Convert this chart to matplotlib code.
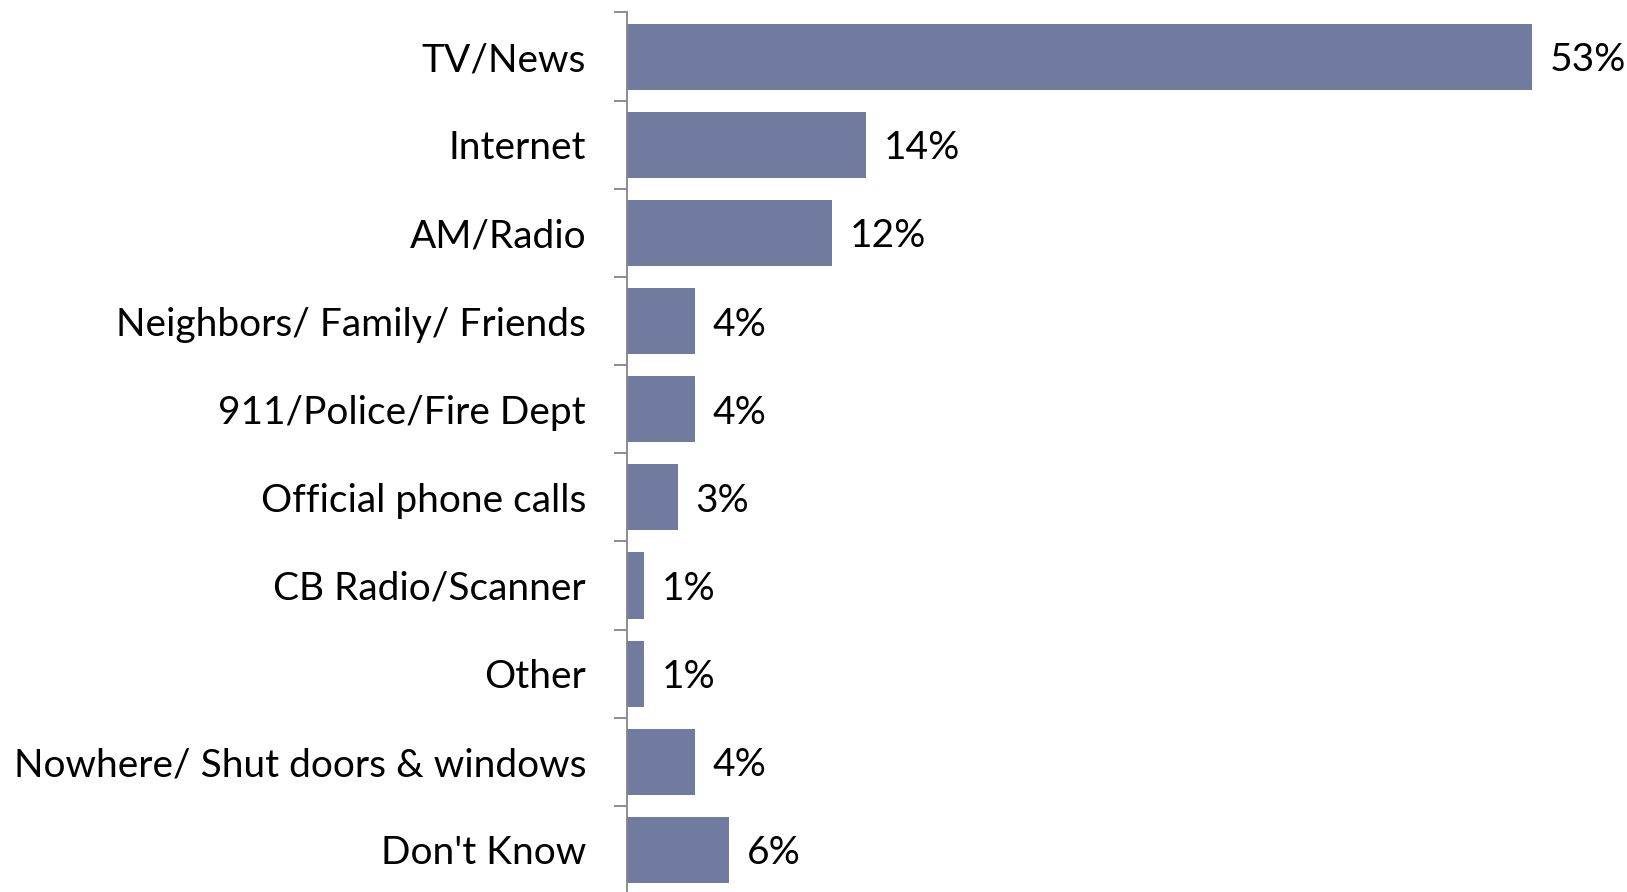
import numpy as np
from matplotlib import pyplot as plt

categories = ['TV/News', 'Internet', 'AM/Radio', 'Neighbors/ Family/ Friends',
              '911/Police/Fire Dept', 'Official phone calls', 'CB Radio/Scanner',
              'Other', 'Nowhere/ Shut doors & windows', "Don't Know"]
percents = [53, 14, 12, 4, 4, 3, 1, 1, 4, 6]

plt.rcParams['font.family'] = ['Lato', 'DejaVu Sans']

fig = plt.figure(figsize=(16.27, 8.92), dpi=100)
ax = fig.add_axes([627 / 1627, -2 / 892, 1 - 627 / 1627, 881.5 / 892])

y = np.arange(len(categories))
ax.barh(y, percents, height=0.75, color='#717ba0')

for yi, p in zip(y, percents):
    ax.annotate(f'{p}%', (p, yi), xytext=(12.5, 0), textcoords='offset points',
                va='center_baseline', ha='left', fontsize=28)

ax.set_ylim(len(categories) - 0.5, -0.5)
ax.set_xlim(0, 58.55)

ax.set_yticks(y)
ax.set_yticklabels(categories, fontsize=28, va='center_baseline')
ax.set_yticks(np.arange(len(categories) + 1) - 0.5, minor=True)
ax.tick_params(axis='y', which='major', length=0, pad=29.5)
ax.tick_params(axis='y', which='minor', length=9.4, width=1.3, color='#868686')
ax.set_xticks([])

for side in ['top', 'right', 'bottom']:
    ax.spines[side].set_visible(False)
ax.spines['left'].set_color('#868686')
ax.spines['left'].set_linewidth(1.3)

fig.savefig('out.png', dpi=100)
